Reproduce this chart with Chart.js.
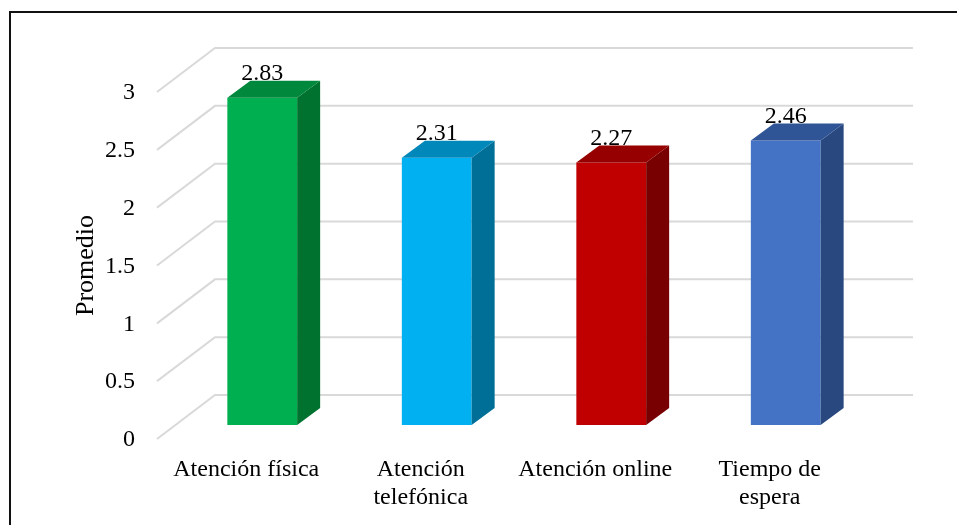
<!DOCTYPE html>
<html>
<head>
<meta charset="utf-8">
<style>
  body { margin: 0; background: #fff; }
  .frame {
    position: absolute; left: 9px; top: 11px;
    width: 960px; height: 530px;
    border-left: 2px solid #111; border-top: 2px solid #111;
  }
  .wrap { position: absolute; left: 0; top: 0; width: 957px; height: 525px; }
</style>
</head>
<body>
<div class="frame"></div>
<div class="wrap"><canvas id="promedio" width="957" height="525"></canvas></div>
<script src="https://cdn.jsdelivr.net/npm/chart.js"></script>
<script>
const categorias = [['Atención física'], ['Atención', 'telefónica'], ['Atención online'], ['Tiempo de', 'espera']];
const promedios = [2.83, 2.31, 2.27, 2.46];
const tituloY = 'Promedio';

// front / side / top colours for each block
const frente = ['#00B050', '#00B0F0', '#C00000', '#4472C4'];
const lado   = ['#00722F', '#006F98', '#780000', '#2A4880'];
const techo  = ['#00883C', '#0088BA', '#960000', '#2F5597'];

const FONT = "'Liberation Serif', 'Times New Roman', serif";
const DX = 23, DY = 17;       // bar depth
const WALL_X = 40, WALL_Y = 30; // back wall offset from bar faces
const EDGE_X = 18, EDGE_Y = 14; // front floor edge offset

Chart.defaults.font.family = FONT;
Chart.defaults.font.size = 24;
Chart.defaults.color = '#000';

const efecto3d = {
  id: 'efecto3d',
  beforeDatasetsDraw(chart) {
    const { ctx, chartArea: a, scales: { y } } = chart;
    ctx.save();
    ctx.strokeStyle = '#D9D9D9';
    ctx.lineWidth = 2;
    y.ticks.forEach(t => {
      const py = y.getPixelForValue(t.value);
      ctx.beginPath();
      ctx.moveTo(a.left - EDGE_X, py + EDGE_Y);
      ctx.lineTo(a.left + WALL_X, py - WALL_Y);
      ctx.lineTo(a.right + WALL_X, py - WALL_Y);
      ctx.stroke();
    });
    ctx.restore();
  },
  afterDatasetsDraw(chart) {
    const { ctx, chartArea: a } = chart;
    const meta = chart.getDatasetMeta(0);
    ctx.save();
    meta.data.forEach((bar, i) => {
      const { x, y, base, width } = bar.getProps(['x', 'y', 'base', 'width'], true);
      const l = x - width / 2, r = x + width / 2;
      // side face
      ctx.fillStyle = lado[i];
      ctx.beginPath();
      ctx.moveTo(r, y);
      ctx.lineTo(r + DX, y - DY);
      ctx.lineTo(r + DX, base - DY);
      ctx.lineTo(r, base);
      ctx.closePath();
      ctx.fill();
      // top face
      ctx.fillStyle = techo[i];
      ctx.beginPath();
      ctx.moveTo(l, y);
      ctx.lineTo(l + DX, y - DY);
      ctx.lineTo(r + DX, y - DY);
      ctx.lineTo(r, y);
      ctx.closePath();
      ctx.fill();
      // value label
      ctx.fillStyle = '#000';
      ctx.font = '24px ' + FONT;
      ctx.textAlign = 'center';
      ctx.textBaseline = 'middle';
      ctx.fillText(promedios[i].toFixed(2), x, y - 24);
    });
    // axis title
    ctx.translate(a.left - 89, (a.top + a.bottom) / 2 + 14);
    ctx.rotate(-Math.PI / 2);
    ctx.font = '26px ' + FONT;
    ctx.textAlign = 'center';
    ctx.textBaseline = 'middle';
    ctx.fillStyle = '#000';
    ctx.fillText(tituloY, 0, 0);
    ctx.restore();
  }
};

new Chart(document.getElementById('promedio'), {
  type: 'bar',
  data: {
    labels: categorias,
    datasets: [{
      data: promedios,
      backgroundColor: frente,
      borderWidth: 0,
      categoryPercentage: 1,
      barPercentage: 0.4
    }]
  },
  options: {
    responsive: false,
    animation: false,
    layout: { padding: { left: 0, top: 78, right: 84, bottom: 0 } },
    plugins: { legend: { display: false }, tooltip: { enabled: false } },
    scales: {
      x: {
        grid: { display: false, drawTicks: false },
        border: { display: false },
        ticks: { padding: 30, labelOffset: -16, maxRotation: 0 },
        afterFit(s) { s.height = 100; }
      },
      y: {
        min: 0, max: 3,
        grid: { display: false, drawTicks: false },
        border: { display: false },
        ticks: { stepSize: 0.5, padding: 40, labelOffset: 15, callback: v => String(v) },
        afterFit(s) { s.width = 175; }
      }
    }
  },
  plugins: [efecto3d]
});
</script>
</body>
</html>
